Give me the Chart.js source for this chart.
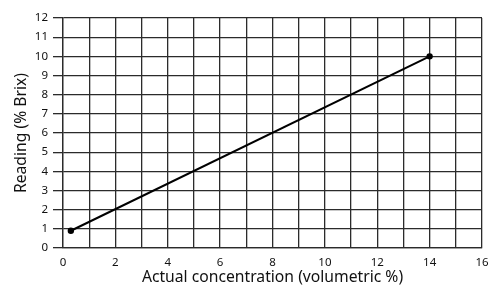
<!DOCTYPE html>
<html lang="en">
<head>
<meta charset="UTF-8">
<title>Brix reading</title>
<style>
  html, body { margin: 0; padding: 0; background: #fff; }
  #wrap { width: 491px; height: 288px; }
</style>
</head>
<body>
<div id="wrap"><canvas id="myChart"></canvas></div>
<script src="https://cdn.jsdelivr.net/npm/chart.js"></script>
<script>
// data
const concentration = [0.3, 14];
const reading = [0.9, 10];
const xTickLabels = ['0', '2', '4', '6', '8', '10', '12', '14', '16'];
const yTickLabels = ['0', '1', '2', '3', '4', '5', '6', '7', '8', '9', '10', '11', '12'];

const fontFamily = "'Noto Sans', 'DejaVu Sans', sans-serif";
const gridColor = '#2b2b2b';

const points = concentration.map((c, i) => ({ x: c, y: reading[i] }));

const config = {
    type: 'line',
    data: {
        datasets: [{
            data: points,
            borderColor: '#000',
            backgroundColor: '#000',
            borderWidth: 2,
            pointRadius: 2.2,
            pointHoverRadius: 2.2,
            tension: 0
        }]
    },
    options: {
        responsive: true,
        maintainAspectRatio: false,
        animation: false,
        layout: { padding: { top: 18, right: 9, left: 0, bottom: 0 } },
        plugins: {
            legend: { display: false },
            tooltip: { enabled: false }
        },
        scales: {
            x: {
                type: 'linear',
                min: 0,
                max: 16,
                afterFit: (s) => {
                    s.height = 40;
                    // don't let the "16" label push the chart area in
                    s.paddingLeft = 0;
                    s.paddingRight = 0;
                },
                grid: { color: gridColor, lineWidth: 1.3, drawTicks: false },
                border: { color: gridColor, width: 1.3 },
                ticks: {
                    stepSize: 1,
                    padding: 8,
                    color: '#111',
                    font: { family: fontFamily, size: 11.5 },
                    maxRotation: 0,
                    autoSkip: false,
                    callback: (v) => xTickLabels.includes(String(v)) ? String(v) : ''
                },
                title: {
                    display: true,
                    text: 'Actual concentration (volumetric %)',
                    color: '#111',
                    font: { family: fontFamily, size: 15.7 },
                    padding: { top: 0, bottom: 1 }
                }
            },
            y: {
                type: 'linear',
                min: 0,
                max: 12,
                afterFit: (s) => { s.width = 63; },
                grid: { color: gridColor, lineWidth: 1.3, tickLength: 10 },
                border: { color: gridColor, width: 1.3 },
                ticks: {
                    stepSize: 1,
                    padding: 5,
                    color: '#111',
                    font: { family: fontFamily, size: 11.5 },
                    callback: (v) => yTickLabels[v]
                },
                title: {
                    display: true,
                    text: 'Reading (% Brix)',
                    color: '#111',
                    font: { family: fontFamily, size: 15.7 },
                    padding: { top: 12, bottom: 0 }
                }
            }
        }
    }
};

const myChart = new Chart(document.getElementById('myChart'), config);
</script>
</body>
</html>
